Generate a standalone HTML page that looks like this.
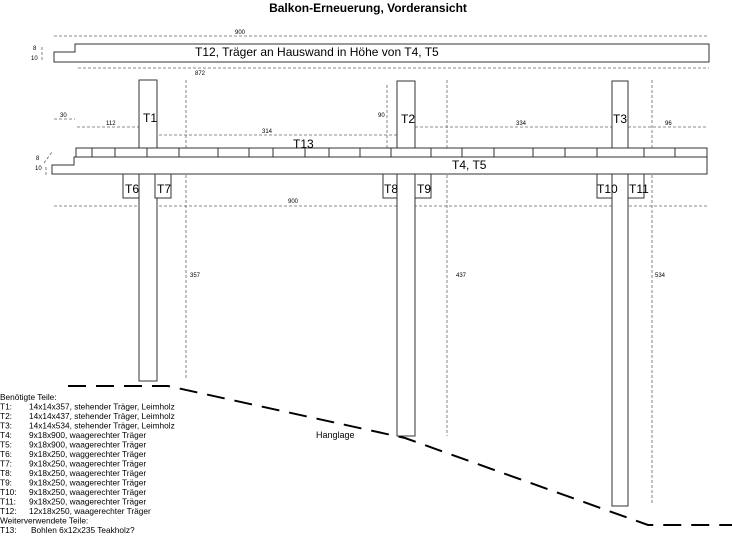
<!DOCTYPE html>
<html><head><meta charset="utf-8"><style>
body{margin:0;background:#fff;width:732px;height:537px;overflow:hidden}
svg{display:block}
text{font-family:"Liberation Sans",sans-serif;fill:#000}
.s{font-size:6px}
.l{font-size:12px}
.p{font-size:8.3px}
</style></head><body>
<svg width="732" height="537" viewBox="0 0 732 537">
<text x="368" y="12" text-anchor="middle" font-weight="bold" font-size="12">Balkon-Erneuerung, Vorderansicht</text>
<g stroke="#666" stroke-width="0.8" stroke-dasharray="3,2" fill="none">
<line x1="54" y1="36" x2="709" y2="36"/>
<line x1="78" y1="68" x2="709" y2="68"/>
<line x1="54" y1="206" x2="709" y2="206"/>
<line x1="186" y1="80" x2="186" y2="380"/>
<line x1="447" y1="80" x2="447" y2="436"/>
<line x1="652" y1="80" x2="652" y2="505"/>
<line x1="387" y1="85" x2="387" y2="148"/>
<line x1="54" y1="119" x2="75" y2="119"/>
<line x1="77" y1="127" x2="139" y2="127"/>
<line x1="139" y1="135" x2="397" y2="135"/>
<line x1="415" y1="127" x2="612" y2="127"/>
<line x1="628" y1="127" x2="707" y2="127"/>
<line x1="42" y1="47" x2="42" y2="62"/>
<line x1="44" y1="163" x2="52" y2="152"/>
<line x1="46" y1="167" x2="46" y2="175"/>
</g>
<g class="s">
<text x="235" y="34">900</text><text x="195" y="75">872</text><text x="288" y="203">900</text>
<text x="60" y="117">30</text><text x="106" y="125">112</text><text x="262" y="133">314</text>
<text x="378" y="117">90</text><text x="516" y="125">334</text><text x="665" y="125">96</text>
<text x="190" y="277">357</text><text x="456" y="277">437</text><text x="655" y="277">534</text>
<text x="33" y="50">8</text><text x="31" y="60">10</text>
<text x="36" y="160">8</text><text x="35" y="170">10</text>
</g>
<g fill="#fff" stroke="#333" stroke-width="1">
<path d="M54 52 H75 V44 H709 V62 H54 Z"/>
<rect x="139" y="80" width="18" height="301"/>
<rect x="397" y="81" width="18" height="355"/>
<rect x="612" y="81" width="16" height="425"/>
<rect x="123" y="174" width="16" height="24"/><rect x="155" y="174" width="16" height="24"/>
<rect x="383" y="174" width="14" height="24"/><rect x="415" y="174" width="16" height="24"/>
<rect x="597" y="174" width="15" height="24"/><rect x="628" y="174" width="16" height="24"/>
<rect x="76" y="148" width="631" height="9"/>
<path d="M52 165 H74 V157 H707 V174 H52 Z"/>
</g>
<g stroke="#333" stroke-width="1">
<path d="M92 148V157M115 148V157M147 148V157M179 148V157M218 148V157M249 148V157M273 148V157M305 148V157M329 148V157M360 148V157M391 148V157M431 148V157M462 148V157M494 148V157M533 148V157M565 148V157M597 148V157M644 148V157M675 148V157"/>
</g>
<g class="l">
<text x="195" y="56">T12, Träger an Hauswand in Höhe von T4, T5</text>
<text x="143" y="122">T1</text><text x="401" y="123">T2</text><text x="613" y="123">T3</text>
<text x="293" y="148">T13</text><text x="452" y="169">T4, T5</text>
<text x="125" y="193">T6</text><text x="157" y="193">T7</text><text x="384" y="193">T8</text>
<text x="417" y="193">T9</text><text x="597" y="193">T10</text><text x="629" y="193">T11</text>
</g>
<path d="M68 386 H168 L405 438 L648 525 H732" fill="none" stroke="#000" stroke-width="2" stroke-dasharray="18,10"/>
<text x="316" y="438" font-size="9">Hanglage</text>
<g class="p">
<text x="0" y="400">Benötigte Teile:</text>
<text x="0" y="409.5">T1:</text><text x="29" y="409.5">14x14x357, stehender Träger, Leimholz</text>
<text x="0" y="419">T2:</text><text x="29" y="419">14x14x437, stehender Träger, Leimholz</text>
<text x="0" y="428.5">T3:</text><text x="29" y="428.5">14x14x534, stehender Träger, Leimholz</text>
<text x="0" y="438">T4:</text><text x="29" y="438">9x18x900, waagerechter Träger</text>
<text x="0" y="447.5">T5:</text><text x="29" y="447.5">9x18x900, waagerechter Träger</text>
<text x="0" y="457">T6:</text><text x="29" y="457">9x18x250, waggerechter Träger</text>
<text x="0" y="466.5">T7:</text><text x="29" y="466.5">9x18x250, waagerechter Träger</text>
<text x="0" y="476">T8:</text><text x="29" y="476">9x18x250, waagerechter Träger</text>
<text x="0" y="485.5">T9:</text><text x="29" y="485.5">9x18x250, waagerechter Träger</text>
<text x="0" y="495">T10:</text><text x="29" y="495">9x18x250, waagerechter Träger</text>
<text x="0" y="504.5">T11:</text><text x="29" y="504.5">9x18x250, waagerechter Träger</text>
<text x="0" y="514">T12:</text><text x="29" y="514">12x18x250, waagerechter Träger</text>
<text x="0" y="523.5">Weiterverwendete Teile:</text>
<text x="0" y="533">T13:</text><text x="31" y="533">Bohlen 6x12x235 Teakholz?</text>
</g>
</svg>
</body></html>
